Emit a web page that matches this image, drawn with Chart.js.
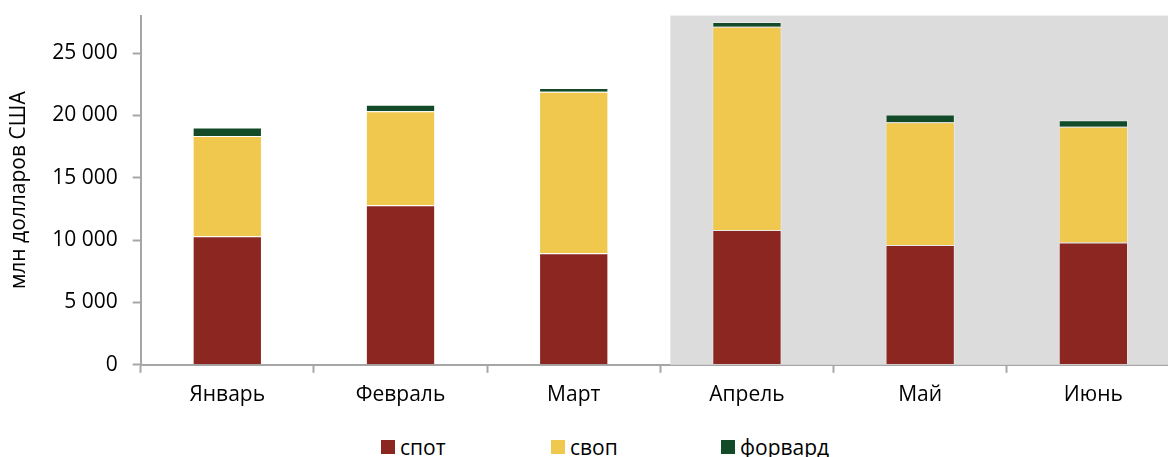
<!DOCTYPE html>
<html lang="ru">
<head>
<meta charset="utf-8">
<script src="https://cdn.jsdelivr.net/npm/chart.js@4.4.1/dist/chart.umd.min.js"></script>
<style>
  html, body { margin: 0; padding: 0; background: #fff; overflow: hidden; }
  #wrap { width: 1180px; height: 433px; margin-top: -12px; position: relative; }
  #legend {
    position: absolute; top: 435px; left: 381px;
    display: flex; font: 21px "Open Sans", sans-serif; line-height: 24px; color: #000;
  }
  #legend .item { display: flex; align-items: center; width: 170px; }
  #legend .box { width: 14px; height: 14px; margin-right: 5px; }
</style>
</head>
<body>
<div id="wrap"><canvas id="c"></canvas></div>
<div id="legend"></div>
<script>
// Объём операций по месяцам, млн долларов США
const months  = ['Январь', 'Февраль', 'Март', 'Апрель', 'Май', 'Июнь'];
const spot    = [10300, 12800, 8950, 10800, 9600, 9800];
const swap    = [8050, 7530, 12950, 16300, 9850, 9280];
const forward = [680, 530, 300, 380, 620, 530];
const yTicks  = [0, 5000, 10000, 15000, 20000, 25000];
const seriesNames  = ['спот', 'своп', 'форвард'];
const seriesColors = ['#8B2620', '#F0C84E', '#134A28'];

const FONT = '"Open Sans", sans-serif';
const AXIS = '#A6A6A6';

// серая подложка для второго квартала
const shadePlugin = {
  id: 'shade',
  beforeDatasetsDraw(chart) {
    const { ctx, chartArea, scales } = chart;
    const x = scales.x;
    const left = (x.getPixelForValue(2) + x.getPixelForValue(3)) / 2 + 10;
    ctx.save();
    ctx.fillStyle = '#DCDCDC';
    ctx.fillRect(left, chartArea.top, chartArea.right - left, chartArea.bottom - chartArea.top);
    ctx.restore();
  }
};

const fmt = v => String(v).replace(/\B(?=(\d{3})+(?!\d))/g, ' ');
const edge = 'rgba(255,255,255,0.35)';

const chart = new Chart(document.getElementById('c'), {
  type: 'bar',
  data: {
    labels: months,
    datasets: [
      { label: seriesNames[0], data: spot, backgroundColor: seriesColors[0], borderColor: edge, borderWidth: 1 },
      { label: seriesNames[1], data: swap, backgroundColor: seriesColors[1], borderColor: edge, borderWidth: 1 },
      { label: seriesNames[2], data: forward, backgroundColor: seriesColors[2], borderColor: edge, borderWidth: 1 }
    ]
  },
  options: {
    responsive: true,
    maintainAspectRatio: false,
    animation: false,
    layout: { padding: { top: 4, left: 6, right: 0, bottom: 3 } },
    datasets: { bar: { categoryPercentage: 1.0, barPercentage: 0.4 } },
    scales: {
      x: {
        stacked: true,
        grid: { offset: true, drawOnChartArea: false, color: AXIS, tickLength: 8, tickWidth: 2 },
        border: { color: AXIS, width: 2 },
        ticks: { color: '#000', font: { family: FONT, size: 21 }, padding: 10 }
      },
      y: {
        stacked: true,
        min: 0,
        max: 28000,
        afterBuildTicks(axis) { axis.ticks = yTicks.map(v => ({ value: v })); },
        grid: { drawOnChartArea: false, color: AXIS, tickLength: 8, tickWidth: 2 },
        border: { color: AXIS, width: 2 },
        ticks: { color: '#000', font: { family: FONT, size: 21 }, padding: 15, callback: v => fmt(v) },
        title: { display: true, text: 'млн долларов США', color: '#000', font: { family: FONT, size: 21 }, padding: { top: 0, bottom: 6 } }
      }
    },
    plugins: {
      legend: { display: false },
      tooltip: { enabled: false }
    }
  },
  plugins: [shadePlugin]
});

// легенда под диаграммой
const legendEl = document.getElementById('legend');
chart.data.datasets.forEach(ds => {
  const item = document.createElement('div');
  item.className = 'item';
  const box = document.createElement('span');
  box.className = 'box';
  box.style.background = ds.backgroundColor;
  const txt = document.createElement('span');
  txt.textContent = ds.label;
  item.appendChild(box);
  item.appendChild(txt);
  legendEl.appendChild(item);
});
</script>
</body>
</html>
